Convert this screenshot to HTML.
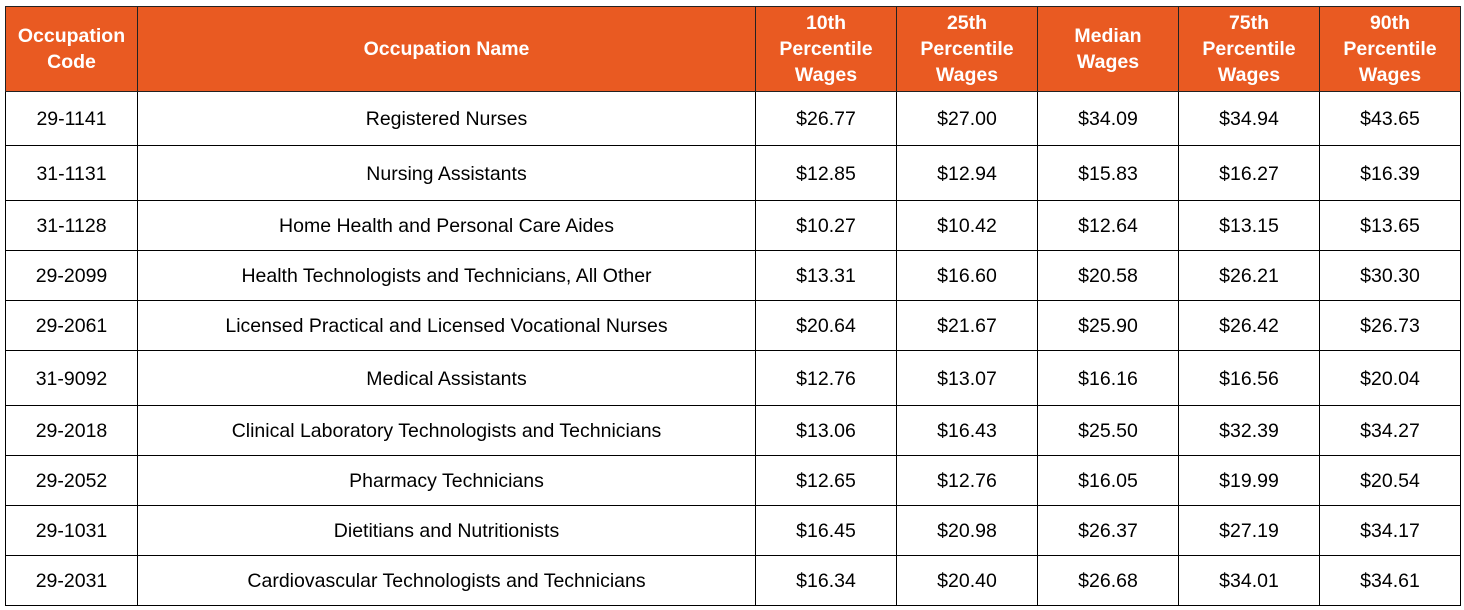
<!DOCTYPE html>
<html><head><style>
body{margin:0;background:#fff;width:1464px;height:610px;overflow:hidden;font-family:"Liberation Sans",Arial,sans-serif;}
table{position:absolute;left:5px;top:6px;border-collapse:collapse;table-layout:fixed;}
td,th{border:1px solid #000;text-align:center;padding:0;font-size:19.5px;color:#000;}
td{padding-top:2px;}
th{background:#E95A22;color:#fff;font-weight:bold;line-height:26px;border-color:#222;}
</style></head><body>
<table>
<colgroup><col style="width:132px"><col style="width:618px"><col style="width:141px"><col style="width:141px"><col style="width:141px"><col style="width:141px"><col style="width:141px"></colgroup>
<tr style="height:85px"><th>Occupation<br>Code</th><th>Occupation Name</th><th>10th<br>Percentile<br>Wages</th><th>25th<br>Percentile<br>Wages</th><th>Median<br>Wages</th><th>75th<br>Percentile<br>Wages</th><th>90th<br>Percentile<br>Wages</th></tr>
<tr style="height:54px"><td>29-1141</td><td>Registered Nurses</td><td>$26.77</td><td>$27.00</td><td>$34.09</td><td>$34.94</td><td>$43.65</td></tr>
<tr style="height:55px"><td>31-1131</td><td>Nursing Assistants</td><td>$12.85</td><td>$12.94</td><td>$15.83</td><td>$16.27</td><td>$16.39</td></tr>
<tr style="height:50px"><td>31-1128</td><td>Home Health and Personal Care Aides</td><td>$10.27</td><td>$10.42</td><td>$12.64</td><td>$13.15</td><td>$13.65</td></tr>
<tr style="height:50px"><td>29-2099</td><td>Health Technologists and Technicians, All Other</td><td>$13.31</td><td>$16.60</td><td>$20.58</td><td>$26.21</td><td>$30.30</td></tr>
<tr style="height:50px"><td>29-2061</td><td>Licensed Practical and Licensed Vocational Nurses</td><td>$20.64</td><td>$21.67</td><td>$25.90</td><td>$26.42</td><td>$26.73</td></tr>
<tr style="height:55px"><td>31-9092</td><td>Medical Assistants</td><td>$12.76</td><td>$13.07</td><td>$16.16</td><td>$16.56</td><td>$20.04</td></tr>
<tr style="height:50px"><td>29-2018</td><td>Clinical Laboratory Technologists and Technicians</td><td>$13.06</td><td>$16.43</td><td>$25.50</td><td>$32.39</td><td>$34.27</td></tr>
<tr style="height:50px"><td>29-2052</td><td>Pharmacy Technicians</td><td>$12.65</td><td>$12.76</td><td>$16.05</td><td>$19.99</td><td>$20.54</td></tr>
<tr style="height:50px"><td>29-1031</td><td>Dietitians and Nutritionists</td><td>$16.45</td><td>$20.98</td><td>$26.37</td><td>$27.19</td><td>$34.17</td></tr>
<tr style="height:50px"><td>29-2031</td><td>Cardiovascular Technologists and Technicians</td><td>$16.34</td><td>$20.40</td><td>$26.68</td><td>$34.01</td><td>$34.61</td></tr>
</table>
</body></html>
